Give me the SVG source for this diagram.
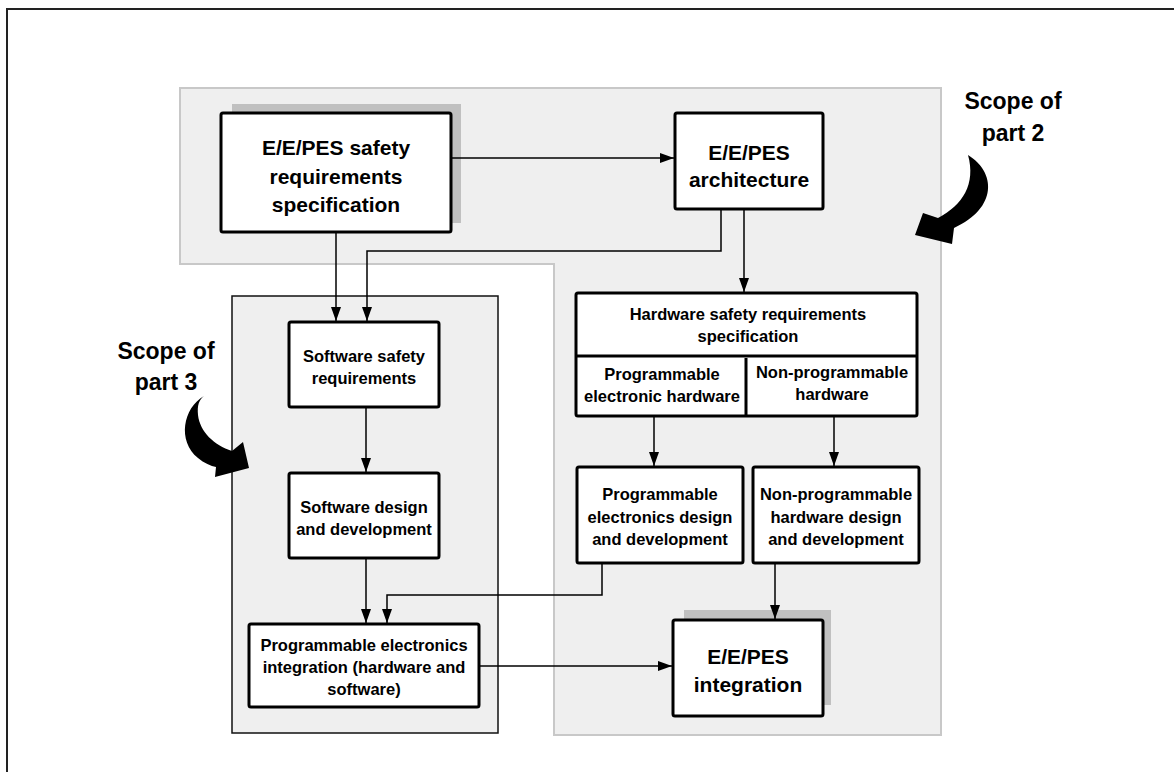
<svg xmlns="http://www.w3.org/2000/svg" width="1174" height="772" viewBox="0 0 1174 772">
<defs>
<style>
.frame{stroke:#222;stroke-width:2;fill:none}
.scope2{fill:#efefef;stroke:#c8c8c8;stroke-width:2}
.scope3{fill:#efefef;stroke:#111;stroke-width:1.5}
.box{fill:#fff;stroke:#000;stroke-width:3}
.shadow{fill:#c0c0c0}
.div{stroke:#000;stroke-width:3;fill:none}
.conn{stroke:#000;stroke-width:1.5;fill:none;marker-end:url(#ah)}
text{font-family:"Liberation Sans",Arial,sans-serif;font-weight:bold;fill:#000;text-anchor:middle}
.big{font-size:21px}
.mid{font-size:16.5px}
.scope{font-size:23px}
.curl{fill:#000}
</style>
<marker id="ah" markerWidth="14" markerHeight="10" refX="14" refY="5" orient="auto" markerUnits="userSpaceOnUse">
<path d="M0,0 L14,5 L0,10 Z" fill="#000"/>
</marker>
</defs>
<rect width="1174" height="772" fill="#fff"/>
<path class="frame" d="M7,772 V9 H1174"/>
<g id="scope-part2">
<path class="scope2" d="M180,88 H941 V735 H554 V264 H180 Z"/>
<text class="scope" x="1013" y="109">Scope of</text>
<text class="scope" x="1013" y="141">part 2</text>
<path class="curl" d="M968,155 C996,172 998,208 954,228 L952,244 L915,235 L923,213 L938,218 C963,205 976,184 968,155 Z"/>
</g>
<g id="scope-part3">
<rect class="scope3" x="232" y="296" width="266" height="437"/>
<text class="scope" x="166" y="359">Scope of</text>
<text class="scope" x="166" y="390">part 3</text>
<path class="curl" d="M204,396 C183,408 177,441 198,458 C204,463 211,466 216,467 L215,477 L249,468 L243,442 L232,451 C214,445 200,432 198,415 C197,405 199,400 204,396 Z"/>
</g>
<g id="ee-pes-srs">
<rect class="shadow" x="232" y="104" width="229" height="119"/>
<rect class="box" x="221" y="113" width="230" height="119" rx="2"/>
<text class="big" x="336" y="155">E/E/PES safety</text>
<text class="big" x="336" y="184">requirements</text>
<text class="big" x="336" y="212">specification</text>
</g>
<g id="ee-pes-arch">
<rect class="box" x="675" y="113" width="148" height="96" rx="2"/>
<text class="big" x="749" y="160">E/E/PES</text>
<text class="big" x="749" y="187">architecture</text>
</g>
<g id="hw-srs">
<rect class="box" x="576" y="293" width="341" height="123" rx="2"/>
<path class="div" d="M576,356 H917 M746,358 V416"/>
<text class="mid" x="748" y="320">Hardware safety requirements</text>
<text class="mid" x="748" y="342">specification</text>
<text class="mid" x="662" y="380">Programmable</text>
<text class="mid" x="662" y="402">electronic hardware</text>
<text class="mid" x="832" y="378">Non-programmable</text>
<text class="mid" x="832" y="400">hardware</text>
</g>
<g id="sw-safety">
<rect class="box" x="289" y="322" width="150" height="85" rx="2"/>
<text class="mid" x="364" y="362">Software safety</text>
<text class="mid" x="364" y="384">requirements</text>
</g>
<g id="sw-design">
<rect class="box" x="289" y="473" width="150" height="85" rx="2"/>
<text class="mid" x="364" y="513">Software design</text>
<text class="mid" x="364" y="535">and development</text>
</g>
<g id="pe-design">
<rect class="box" x="577" y="467" width="166" height="96" rx="2"/>
<text class="mid" x="660" y="500">Programmable</text>
<text class="mid" x="660" y="523">electronics design</text>
<text class="mid" x="660" y="545">and development</text>
</g>
<g id="nonpe-design">
<rect class="box" x="753" y="467" width="166" height="96" rx="2"/>
<text class="mid" x="836" y="500">Non-programmable</text>
<text class="mid" x="836" y="523">hardware design</text>
<text class="mid" x="836" y="545">and development</text>
</g>
<g id="pe-integration">
<rect class="box" x="249" y="624" width="230" height="83" rx="2"/>
<text class="mid" x="364" y="651">Programmable electronics</text>
<text class="mid" x="364" y="673">integration (hardware and</text>
<text class="mid" x="364" y="695">software)</text>
</g>
<g id="ee-pes-integration">
<rect class="shadow" x="684" y="610" width="147" height="95"/>
<rect class="box" x="673" y="620" width="150" height="96" rx="2"/>
<text class="big" x="748" y="664">E/E/PES</text>
<text class="big" x="748" y="692">integration</text>
</g>
<g id="connectors">
<path class="conn" d="M452,158 H674"/>
<path class="conn" d="M336,233 V321"/>
<path class="conn" d="M721,210 V251 H367 V321"/>
<path class="conn" d="M744,210 V292"/>
<path class="conn" d="M366,408 V472"/>
<path class="conn" d="M654,417 V466"/>
<path class="conn" d="M834,417 V466"/>
<path class="conn" d="M366,559 V623"/>
<path class="conn" d="M602,564 V595 H387 V623"/>
<path class="conn" d="M775,564 V619"/>
<path class="conn" d="M480,666 H672"/>
</g>
</svg>
